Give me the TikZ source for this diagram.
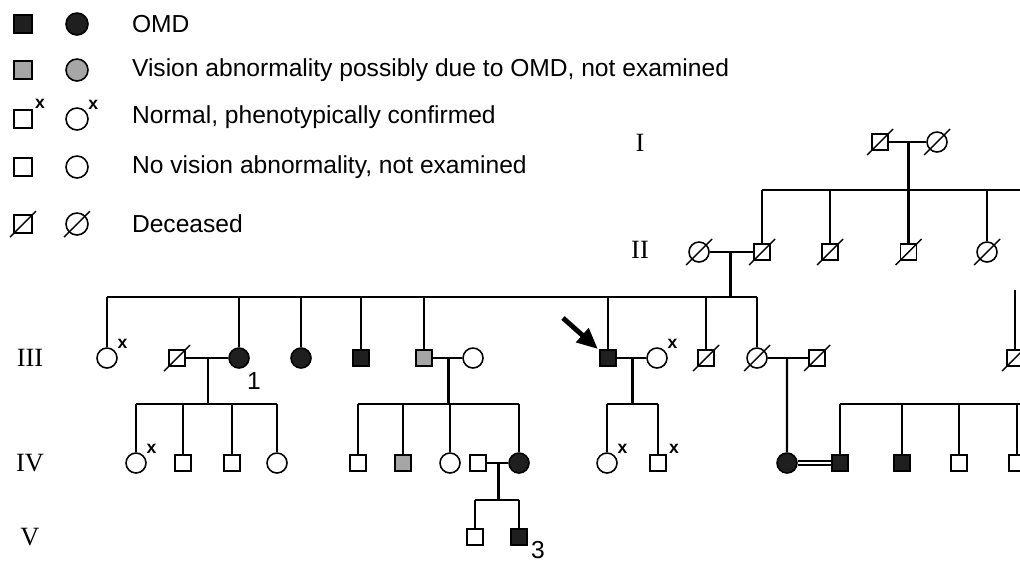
\documentclass[tikz,border=0pt]{standalone}
\usepackage{fontspec}
\setmainfont{Liberation Serif}
\setsansfont{Liberation Sans}
\usetikzlibrary{calc, arrows.meta}

\tikzset{
    male/.style    = {draw, rectangle, minimum size = 0.32cm, inner sep = 0pt, line width = 0.9pt, fill = white},
    female/.style  = {draw, circle, minimum size = 0.4cm, inner sep = 0pt, line width = 0.9pt, fill = white},
    keym/.style    = {male, minimum size = 0.36cm},
    keyf/.style    = {female, minimum size = 0.44cm},
    omd/.style     = {fill = black!88},
    maybe/.style   = {fill = black!35},
    tick/.style    = {font = \sffamily\bfseries\fontsize{10}{12}\selectfont, inner sep = 0pt, label distance = 1pt},
    seen/.style    = {label = {[tick] 40:x}},
    legtext/.style = {anchor = west, inner sep = 0pt, font = \sffamily\fontsize{14}{16}\selectfont},
    num/.style     = {inner sep = 0pt, font = \sffamily\fontsize{14}{16}\selectfont},
    gen/.style     = {inner sep = 0pt, font = \fontsize{15}{18}\selectfont},
    slash/.style   = {line width = 0.8pt},
}

\begin{document}
\begin{tikzpicture}[x = 0.02cm, y = -0.02cm, line width = 1.2pt]
            \useasboundingbox (0, 0) rectangle (1020, 562);
            \clip (0, 0) rectangle (1020, 562);

            \draw
                (23,  24)  node (k1)  [keym, omd] {}
                (77,  24)  node (k2)  [keyf, omd] {}
                (131, 24)  node (t1)  [legtext] {OMD}
                (23,  70)  node (k3)  [keym, maybe] {}
                (77,  70)  node (k4)  [keyf, maybe] {}
                (131, 70)  node (t2)  [legtext] {Vision abnormality possibly due to OMD, not examined}
                (23,  119) node (k5)  [keym, seen] {}
                (77,  119) node (k6)  [keyf, seen] {}
                (131, 117) node (t3)  [legtext] {Normal, phenotypically confirmed}
                (23,  167) node (k7)  [keym] {}
                (77,  167) node (k8)  [keyf] {}
                (131, 167) node (t4)  [legtext] {No vision abnormality, not examined}
                (23,  224) node (k9)  [keym] {}
                (77,  224) node (k10) [keyf] {}
                (131, 224) node (t5)  [legtext] {Deceased}

                (640, 143) node (g1) [gen] {I}
                (640, 250) node (g2) [gen] {II}
                (30,  358) node (g3) [gen] {III}
                (30,  463) node (g4) [gen] {IV}
                (30,  537) node (g5) [gen] {V}

                (880,   142) node (i1)  [male] {}
                (937,   142) node (i2)  [female] {}

                (699,   252) node (ii1) [female] {}
                (762,   252) node (ii2) [male] {}
                (830,   252) node (ii3) [male] {}
                (908.5, 252) node (ii4) [male] {}
                (987,   252) node (ii5) [female] {}

                (107,  358) node (iii1)  [female, seen] {}
                (177,  358) node (iii2)  [male] {}
                (239,  358) node (iii3)  [female, omd] {}
                (301,  358) node (iii4)  [female, omd] {}
                (361,  358) node (iii5)  [male, omd] {}
                (424,  358) node (iii6)  [male, maybe] {}
                (473,  358) node (iii7)  [female] {}
                (608,  358) node (iii8)  [male, omd] {}
                (657,  358) node (iii9)  [female, seen] {}
                (706,  358) node (iii10) [male] {}
                (757,  358) node (iii11) [female] {}
                (817,  358) node (iii12) [male] {}
                (1015, 358) node (iii13) [male] {}
                (254,  381) node (n1)    [num] {1}

                (136, 463) node (iv1)  [female, seen] {}
                (183, 463) node (iv2)  [male] {}
                (232, 463) node (iv3)  [male] {}
                (277, 463) node (iv4)  [female] {}
                (358, 463) node (iv5)  [male] {}
                (403, 463) node (iv6)  [male, maybe] {}
                (450, 463) node (iv7)  [female] {}
                (478, 463) node (iv8)  [male] {}
                (519, 463) node (iv9)  [female, omd] {}
                (607, 463) node (iv10) [female, seen] {}
                (658, 463) node (iv11) [male, seen] {}
                (787, 463) node (iv12) [female, omd] {}
                (840, 463) node (iv13) [male, omd] {}
                (902, 463) node (iv14) [male, omd] {}
                (959, 463) node (iv15) [male] {}
                (1017, 463) node (iv16) [male] {}

                (475, 537) node (v1) [male] {}
                (519, 537) node (v2) [male, omd] {}
                (538, 550) node (n3) [num] {3}
            ;

            \coordinate (s2)  at (762, 190);
            \coordinate (s2e) at (1025, 190);
            \coordinate (s3)  at (107, 297);
            \coordinate (s3e) at (757, 297);
            \coordinate (r3)  at (1015, 290);
            \coordinate (s4)  at (136, 404);
            \coordinate (s4e) at (277, 404);
            \coordinate (s5)  at (358, 404);
            \coordinate (s5e) at (519, 404);
            \coordinate (s6)  at (607, 404);
            \coordinate (s6e) at (658, 404);
            \coordinate (s7)  at (840, 404);
            \coordinate (s7e) at (1025, 404);
            \coordinate (s8)  at (475, 500);
            \coordinate (s8e) at (519, 500);
            \coordinate (a0)  at (563, 318);

            \coordinate (m1) at ($(i1)!0.5!(i2)$);
            \coordinate (m2) at ($(ii1)!0.5!(ii2)$);
            \coordinate (m3) at ($(iii2)!0.5!(iii3)$);
            \coordinate (m4) at ($(iii6)!0.5!(iii7)$);
            \coordinate (m5) at ($(iii8)!0.5!(iii9)$);
            \coordinate (m6) at ($(iii11)!0.5!(iii12)$);
            \coordinate (m7) at ($(iv8)!0.5!(iv9)$);

            \draw
                (i1) edge (i2)
                (m1) edge (ii4)
                (s2) edge (s2e)
                (ii2) edge (ii2 |- s2)
                (ii3) edge (ii3 |- s2)
                (ii5) edge (ii5 |- s2)

                (ii1) edge (ii2)
                (m2) edge (m2 |- s3)
                (s3) edge (s3e)
                (iii13) edge (r3)

                (iii2) edge (iii3)
                (m3) edge (m3 |- s4)
                (s4) edge (s4e)

                (iii6) edge (iii7)
                (m4) edge (m4 |- s5)
                (s5) edge (s5e)

                (iii8) edge (iii9)
                (m5) edge (m5 |- s6)
                (s6) edge (s6e)

                (iii11) edge (iii12)
                (m6) edge (iv12)
                (iv12) edge[double, double distance = 1.6pt, line width = 0.9pt] (iv13)
                (s7) edge (s7e)

                (iv8) edge (iv9)
                (m7) edge (m7 |- s8)
                (s8) edge (s8e)
            ;

            \foreach \c in {iii1, iii3, iii4, iii5, iii6, iii8, iii10, iii11}
                \draw (\c) -- (\c |- s3);
            \foreach \c in {iv1, iv2, iv3, iv4}
                \draw (\c) -- (\c |- s4);
            \foreach \c in {iv5, iv6, iv7, iv9}
                \draw (\c) -- (\c |- s5);
            \foreach \c in {iv10, iv11}
                \draw (\c) -- (\c |- s6);
            \foreach \c in {iv13, iv14, iv15, iv16}
                \draw (\c) -- (\c |- s7);
            \foreach \c in {v1, v2}
                \draw (\c) -- (\c |- s8);

            \foreach \d in {k9, k10, i1, i2, ii1, ii2, ii3, ii4, ii5, iii2, iii10, iii11, iii12, iii13}
                \draw[slash] ([shift = {(-13, 13)}]\d.center) -- ([shift = {(13, -13)}]\d.center);

            \draw[line width = 2.8pt, -{Triangle[length = 0.42cm, width = 0.36cm]}, shorten >= 1pt] (a0) -- (iii8);

        \end{tikzpicture}
\end{document}
